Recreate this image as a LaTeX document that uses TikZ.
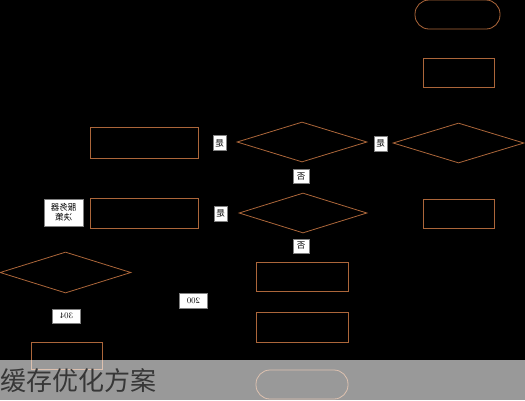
\documentclass[tikz,border=0pt]{standalone}
\usepackage{fontspec}
\newfontfamily\cjk{Noto Sans CJK SC}
\usetikzlibrary{shapes.geometric}
\definecolor{flowline}{RGB}{172,102,58}
\definecolor{bannertext}{RGB}{55,55,55}
\tikzset{box/.style = {draw=flowline, line width=0.8pt, inner sep=0, minimum width=71pt, minimum height=29pt}}
\tikzset{wide/.style = {box, minimum width=92pt}}
\tikzset{term/.style = {box, rounded corners=14pt}}
\tikzset{decide/.style = {draw=flowline, line width=0.8pt, diamond, inner sep=0, minimum width=130pt, minimum height=40pt}}
\tikzset{tag/.style = {draw=gray, fill=white, xscale=-1, inner sep=2pt, minimum width=13pt, minimum height=15pt, align=center, font=\cjk\fontsize{8.5}{10}\selectfont}}
\tikzset{code/.style = {tag, minimum width=28pt, font=\fontsize{8.5}{10}\selectfont}}

\begin{document}
\begin{tikzpicture}[x=1pt, y=-1pt]
    \fill [black] (0,0) rectangle (525,400);
    \useasboundingbox (0,0) rectangle (525,400);
    % right column
    \node [term, minimum width=85pt] (start) at (457.5, 14.5) {};
    \node [box] (fetch) at (458.5, 72.5) {};
    \node [decide, minimum width=131pt] (cached) at (458.5, 143) {};
    \node [box] (store) at (458.5, 213.5) {};
    % middle column
    \node [decide] (fresh) at (302, 142) {};
    \node [decide, minimum width=128pt] (changed) at (303, 213) {};
    \node [wide] (request) at (302, 276.5) {};
    \node [wide, minimum height=30pt] (reply) at (302, 327) {};
    \node [term, minimum width=92pt] (finish) at (302, 384.5) {};
    % left column
    \node [box, minimum width=108pt, minimum height=31pt] (local) at (144, 142.5) {};
    \node [box, minimum width=108pt, minimum height=30pt] (server) at (144, 213) {};
    \node [decide, minimum width=131pt, minimum height=41pt] (status) at (65.5, 272.5) {};
    \node [box, minimum height=27pt] (render) at (66.5, 355.5) {};
    % tags
    \node [tag] (yesA) at (380.5, 143.5) {是};
    \node [tag] (yesB) at (219.5, 143) {是};
    \node [tag, minimum width=16pt, minimum height=14pt] (noA) at (301, 176.5) {否};
    \node [tag] (yesC) at (220.5, 213.5) {是};
    \node [tag, minimum width=16pt, minimum height=14pt] (noB) at (301, 246) {否};
    \node [tag, minimum width=39pt, minimum height=27pt] (decision) at (63.5, 212.5) {服务器\\决策};
    \node [code] (ok) at (193.5, 300.5) {200};
    \node [code, minimum height=14pt] (notmod) at (66.5, 316) {304};
    % banner
    \fill [white, fill opacity=0.6] (0,360) rectangle (525,400);
    \node [anchor=west, inner sep=0, text=bannertext, font=\cjk\fontsize{26}{26}\selectfont] (title) at (0, 381) {缓存优化方案};
\end{tikzpicture}
\end{document}
